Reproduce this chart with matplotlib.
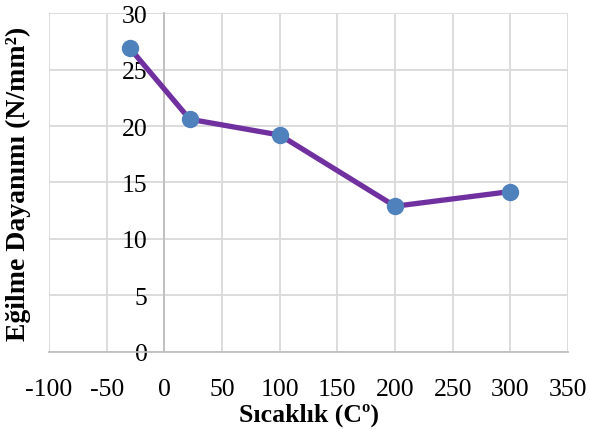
import matplotlib.pyplot as plt

# temperature (C) vs bending strength (N/mm2)
sicaklik = [-30, 22, 100, 200, 300]
dayanim = [26.9, 20.6, 19.2, 12.9, 14.2]
x_ticks = [-100, -50, 0, 50, 100, 150, 200, 250, 300, 350]
y_ticks = [0, 5, 10, 15, 20, 25, 30]

plt.rcParams['font.family'] = ['Liberation Serif', 'DejaVu Serif']
plt.rcParams['axes.unicode_minus'] = False

fig = plt.figure(figsize=(5.9, 4.31), dpi=100)
ax = fig.add_axes([0.083, 0.181, 0.88, 0.7865])

ax.plot(sicaklik, dayanim, color='#7030A0', linewidth=3.8, zorder=3,
        marker='o', markersize=11.5, markerfacecolor='#4F81BD', markeredgecolor='#4F81BD')

ax.set_xlim(-100, 350)
ax.set_ylim(0, 30)
ax.set_xticks(x_ticks)
ax.set_yticks(y_ticks)
ax.grid(True, color='#D9D9D9', linewidth=1.3)
ax.set_axisbelow(True)

for s in ['top', 'right']:
    ax.spines[s].set_visible(False)
ax.spines['left'].set_position(('data', 0))
ax.spines['left'].set_color('#BFBFBF')
ax.spines['left'].set_linewidth(1.3)
ax.spines['bottom'].set_color('#BFBFBF')
ax.spines['bottom'].set_linewidth(1.3)

ax.tick_params(axis='both', length=0, labelsize=18.5)
ax.tick_params(axis='x', pad=19)
ax.tick_params(axis='y', pad=12)

ax.set_xlabel('Sıcaklık (Cº)', fontsize=18.5, fontweight='bold')
ax.xaxis.set_label_coords(0.5, -0.15)
ax.set_ylabel('Eğilme Dayanımı (N/mm²)', fontsize=20, fontweight='bold')
ax.yaxis.set_label_coords(-0.034, 0.5)

fig.savefig('out.png', dpi=100)
